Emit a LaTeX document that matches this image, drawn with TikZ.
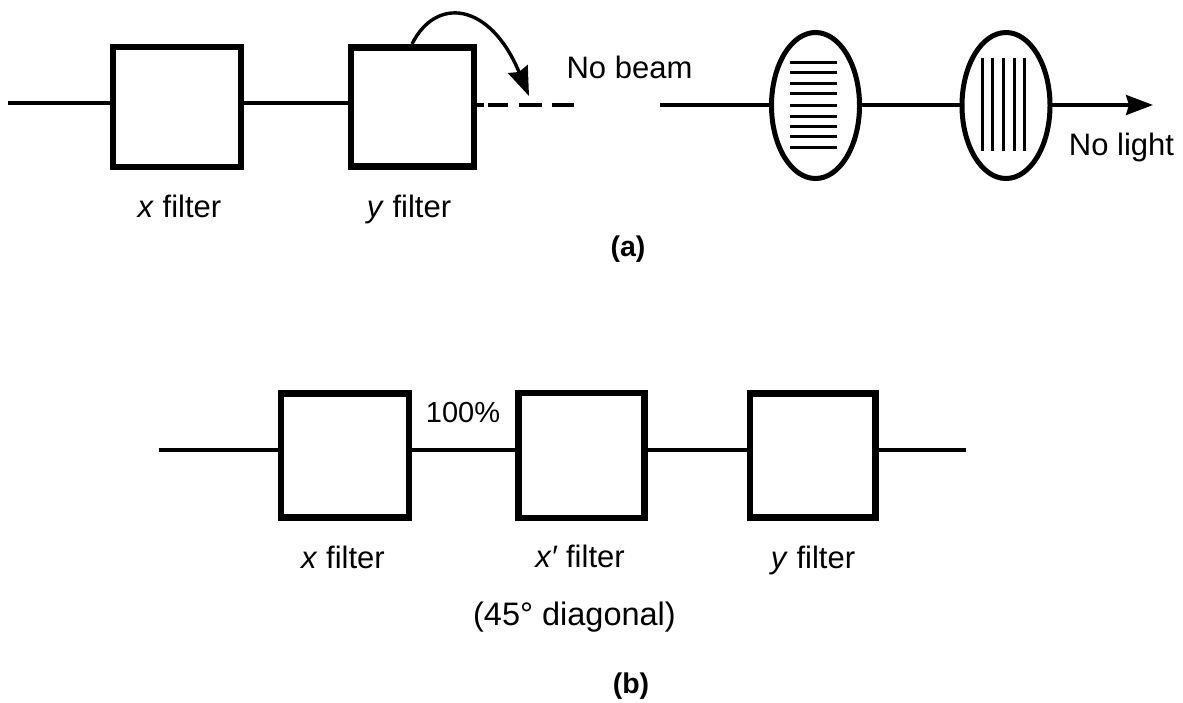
\documentclass[tikz,border=0pt]{standalone}
\usepackage{fontspec}
\setmainfont{Liberation Sans}
\usetikzlibrary{shapes.geometric,arrows.meta}
\tikzset{
 filterbox/.style 2 args={draw=black,line width=6.2pt,minimum width=#1,minimum height=#2,inner sep=0pt,outer sep=0pt},
 lens/.style={draw=black,line width=5pt,ellipse,minimum width=88pt,minimum height=146pt,inner sep=0pt,outer sep=0pt},
 beam/.style={draw=black,line width=3.2pt},
 grid line/.style={draw=black,line width=3pt},
 lab/.style={inner sep=0pt,anchor=base,font=\fontsize{31}{34}\selectfont,text=black},
 small lab/.style={lab,font=\fontsize{29}{32}\selectfont},
 wide lab/.style={lab,font=\fontsize{32.5}{36}\selectfont},
 bold lab/.style={lab,font=\fontsize{28.5}{32}\selectfont\bfseries}
}
\begin{document}
\begin{tikzpicture}[x=1pt,y=-1pt]
\useasboundingbox (0,0) rectangle (1183,702);
% part (a)
\node[filterbox={128pt}{120pt}] (ax) at (177,107) {};
\node[filterbox={123pt}{119pt}] (ay) at (412.5,107) {};
\node[lens] (l1) at (815.5,105.5) {};
\node[lens] (l2) at (1006,105.5) {};
\coordinate (ain) at (8,103);
\coordinate (gapend) at (574,105);
\coordinate (resume) at (660,105);
\coordinate (aout) at (1153,105);
\coordinate (curveStart) at (412,44);
\coordinate (curveEnd) at (529,96);
\draw[beam] (ain) -- (ain -| ax.west);
\draw[beam] (ax.east |- ain) -- (ay.west |- ain);
\draw[beam,dash pattern=on 10pt off 4pt on 20pt off 11pt on 23pt off 10pt on 22pt off 0pt] (ay.east |- gapend) -- (gapend);
\draw[beam] (resume) -- (resume -| l1.west);
\draw[beam] (l1.east |- resume) -- (l2.west |- resume);
\draw[beam,-{Stealth[length=27pt,width=20pt,inset=3pt]}] (l2.east |- aout) -- (aout);
\draw[line width=3.4pt,-{Stealth[length=29pt,width=21pt,inset=3pt]}] (curveStart) .. controls (436,-4) and (490,2) .. (curveEnd);
\foreach \yy in {62.7,72.7,83.3,93.3,105.3,116,126.7,136.7,147.3}
  \draw[grid line] (790,\yy) -- (837,\yy);
\foreach \xx in {982.3,992.7,1003.3,1014,1024.7}
  \draw[grid line] (\xx,58) -- (\xx,150.7);
\node[lab] (noBeam) at (629.5,78) {No beam};
\node[lab] (noLight) at (1121.5,155) {No light};
\node[lab] (axl) at (179.5,217) {\textit{x} filter};
\node[lab] (ayl) at (409,217) {\textit{y} filter};
\node[bold lab] (acap) at (628,256) {(a)};
% part (b)
\node[filterbox={128pt}{124pt}] (bx) at (345,455.5) {};
\node[filterbox={126pt}{124.5pt}] (bxp) at (581.5,455.5) {};
\node[filterbox={125.5pt}{124pt}] (by) at (812.75,455.5) {};
\coordinate (bin) at (159,450);
\coordinate (bout) at (966,450);
\draw[beam] (bin) -- (bin -| bx.west);
\draw[beam] (bx.east |- bin) -- (bxp.west |- bin);
\draw[beam] (bxp.east |- bin) -- (by.west |- bin);
\draw[beam] (by.east |- bin) -- (bout);
\node[small lab] (pct) at (463,422) {100\%};
\node[lab] (bxl) at (343,568) {\textit{x} filter};
\node[lab] (bxpl) at (580,567) {\textit{x′} filter};
\node[lab] (byl) at (813,568) {\textit{y} filter};
\node[wide lab] (diag) at (574.5,625) {(45° diagonal)};
\node[bold lab] (bcap) at (631,693) {(b)};
\end{tikzpicture}
\end{document}
